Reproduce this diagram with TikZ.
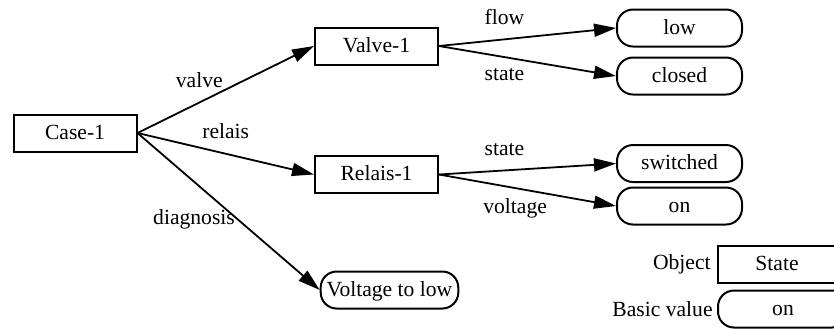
\documentclass[tikz,border=0pt]{standalone}
\usepackage{fontspec}
\setmainfont{Liberation Serif}
\usetikzlibrary{arrows.meta,positioning}

\begin{document}
\begin{tikzpicture}[x=0.5pt,y=-0.5pt,font=\fontsize{10.8}{13}\selectfont,
   objbox/.style={draw,line width=1pt,minimum width=61.5pt,minimum height=18.5pt,inner sep=2pt,text height=6.8pt,text depth=0.4pt},
   valbox/.style={draw,line width=1pt,rounded corners=8pt,minimum width=62.5pt,minimum height=18.5pt,inner xsep=3pt,inner ysep=2pt,text height=6.8pt,text depth=0.4pt},
   rel/.style={-{Triangle[length=11pt,width=6.5pt]},line width=0.9pt},
   lbl/.style={inner sep=1pt}]
   \useasboundingbox (0,0) rectangle (834,329);
   % objects
   \node[objbox] (case) at (75,133) {Case-1};
   \node[objbox] (valve) at (376.5,46) {Valve-1};
   \node[objbox] (relais) at (376.5,174.5) {Relais-1};
   % basic values
   \node[valbox] (low) at (679.5,28) {low};
   \node[valbox] (closed) at (679.5,76) {closed};
   \node[valbox] (switched) at (679.5,163.5) {switched};
   \node[valbox] (on) at (679.5,206) {on};
   \node[valbox] (diag) at (389.5,290) {Voltage to low};
   % relations
   \draw[rel] (case.east) -- node[lbl,pos=0.35,above=6pt]{valve} (valve.west);
   \draw[rel] (case.east) -- node[lbl,pos=0.5,above=6pt]{relais} (relais.west);
   \draw[rel] (case.east) -- node[lbl,pos=0.55,left]{diagnosis} (diag.west);
   \draw[rel] (valve.east) -- node[lbl,pos=0.37,above=6pt]{flow} (low.west);
   \draw[rel] (valve.east) -- node[lbl,pos=0.37,below=4pt]{state} (closed.west);
   \draw[rel] (relais.east) -- node[lbl,pos=0.37,above=6pt]{state} (switched.west);
   \draw[rel] (relais.east) -- node[lbl,pos=0.43,below=4pt]{voltage} (on.west);
   % legend
   \node[objbox,minimum width=59pt] (keyobj) at (777,264) {State};
   \node[valbox,minimum width=65pt] (keyval) at (783,309) {on};
   \node[left=3pt of keyobj,inner sep=0pt] {Object};
   \node[left=2pt of keyval,inner sep=0pt] {Basic value};
\end{tikzpicture}
\end{document}
